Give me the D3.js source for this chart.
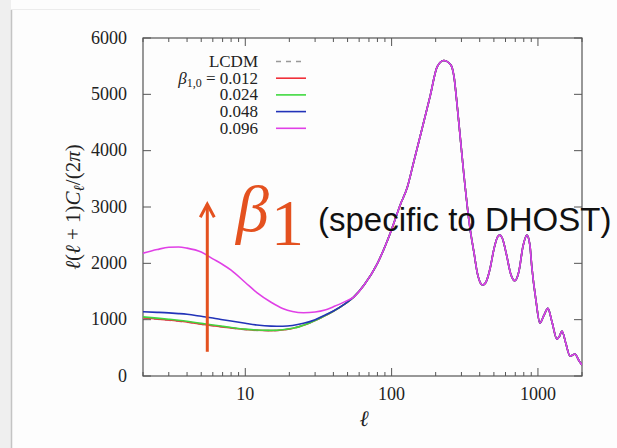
<!DOCTYPE html>
<html>
<head>
<meta charset="utf-8">
<script src="https://cdn.jsdelivr.net/npm/d3@7"></script>
<style>
  body { margin: 0; background: #fdfdfd; }
  svg { display: block; }
  .tick-label { font-family: "Liberation Serif", "Times New Roman", serif; font-size: 18px; fill: #222; }
  .legend { font-family: "Liberation Serif", "Times New Roman", serif; font-size: 17px; fill: #222; }
</style>
</head>
<body>
<svg width="617" height="448"></svg>
<script>
// low-l part, different for each model
let ellLow = [2, 2.5, 3, 3.5, 4, 5, 6, 7, 8, 10, 12, 15, 18, 21, 25, 30, 35, 40, 48]
let dlLCDM = [1030, 1008, 990, 972, 955, 918, 892, 870, 852, 824, 810, 805, 816, 843, 900, 985, 1070, 1150, 1280]
let dl012  = [1035, 1012, 994, 976, 958, 921, 895, 872, 854, 826, 811, 806, 817, 844, 901, 986, 1070, 1150, 1280]
let dl024  = [1050, 1027, 1008, 990, 972, 934, 906, 882, 862, 832, 816, 810, 820, 846, 903, 987, 1071, 1150, 1280]
let dl048  = [1140, 1130, 1120, 1108, 1095, 1060, 1030, 1000, 975, 935, 905, 885, 882, 895, 935, 1000, 1080, 1155, 1282]
let dl096  = [2180, 2245, 2285, 2290, 2270, 2200, 2080, 1980, 1880, 1660, 1480, 1310, 1200, 1145, 1122, 1135, 1170, 1230, 1320]

// high-l part, shared by all models (curves overlap there)
let ellHigh = [55, 65, 80, 98, 115, 128, 141, 160, 183, 205, 227, 254, 267, 281, 311, 342, 366, 385, 405, 420,
  440, 470, 500, 530, 549, 570, 610, 650, 695, 740, 790, 840, 880, 908, 968, 1031, 1100, 1169, 1250,
  1348, 1400, 1459, 1550, 1656, 1720, 1790, 1900, 2000]
let dlHigh = [1400, 1620, 2000, 2540, 3050, 3350, 3780, 4350, 4960, 5490, 5600, 5520, 5310, 4780, 3600, 2650, 2180, 1830, 1650, 1615,
  1660, 1900, 2250, 2470, 2500, 2450, 2150, 1820, 1690, 1850, 2300, 2500, 2330, 1935, 1350, 940, 1080, 1200, 950,
  655, 700, 800, 580, 355, 370, 390, 280, 195]

let legendLabels = ['LCDM', '0.012', '0.024', '0.048', '0.096']
let yTicks = [0, 1000, 2000, 3000, 4000, 5000, 6000]
let xTickLabels = [10, 100, 1000]

const svg = d3.select('svg')

// slide edge
svg.append('rect').attr('x', 0).attr('y', 0).attr('width', 11).attr('height', 448).attr('fill', '#efefef')
svg.append('line').attr('x1', 11.5).attr('x2', 11.5).attr('y1', 10).attr('y2', 448)
  .attr('stroke', '#c4c4c4').attr('stroke-width', 1.5)
svg.append('line').attr('x1', 11).attr('x2', 260).attr('y1', 9.5).attr('y2', 9.5)
  .attr('stroke', '#ececec').attr('stroke-width', 1)

const x = d3.scaleLog().domain([2, 2000]).range([143, 582])
const y = d3.scaleLinear().domain([0, 6000]).range([376, 38])

svg.append('clipPath').attr('id', 'plot')
  .append('rect').attr('x', 143).attr('y', 38).attr('width', 439).attr('height', 338)

// ticks (inward, gnuplot style)
const minor = []
for (let d = 1; d <= 1000; d *= 10) {
  for (let k = 2; k <= 9; k++) {
    if (k * d >= 2 && k * d <= 2000) minor.push(k * d)
  }
}
const axisG = svg.append('g').attr('stroke', '#555').attr('stroke-width', 1)
minor.forEach(v => {
  axisG.append('line').attr('x1', x(v)).attr('x2', x(v)).attr('y1', 376).attr('y2', 372)
  axisG.append('line').attr('x1', x(v)).attr('x2', x(v)).attr('y1', 38).attr('y2', 42)
})
xTickLabels.forEach(v => {
  axisG.append('line').attr('x1', x(v)).attr('x2', x(v)).attr('y1', 376).attr('y2', 368)
  axisG.append('line').attr('x1', x(v)).attr('x2', x(v)).attr('y1', 38).attr('y2', 46)
})
yTicks.forEach(v => {
  axisG.append('line').attr('x1', 143).attr('x2', 151).attr('y1', y(v)).attr('y2', y(v))
  axisG.append('line').attr('x1', 582).attr('x2', 574).attr('y1', y(v)).attr('y2', y(v))
})
svg.append('rect').attr('x', 143).attr('y', 38).attr('width', 439).attr('height', 338)
  .attr('fill', 'none').attr('stroke', '#555').attr('stroke-width', 1.2)

svg.selectAll('text.ylab').data(yTicks).enter().append('text')
  .attr('class', 'tick-label')
  .attr('x', 127).attr('y', d => y(d) + 5.5)
  .attr('text-anchor', 'end')
  .text(d => d)

svg.selectAll('text.xlab').data(xTickLabels).enter().append('text')
  .attr('class', 'tick-label')
  .attr('x', d => x(d)).attr('y', 400)
  .attr('text-anchor', 'middle')
  .text(d => d)

// axis titles
svg.append('text')
  .attr('x', 364).attr('y', 426)
  .attr('text-anchor', 'middle')
  .style('font-family', '"Liberation Serif", "DejaVu Serif", serif')
  .style('font-style', 'italic').style('font-size', '22px').attr('fill', '#222')
  .text('ℓ')

const ylab = svg.append('text')
  .attr('transform', 'translate(80,207) rotate(-90)')
  .attr('text-anchor', 'middle')
  .style('font-family', '"Liberation Serif", "DejaVu Serif", serif')
  .style('font-size', '21px').attr('fill', '#222')
ylab.append('tspan').style('font-style', 'italic').text('ℓ')
ylab.append('tspan').text('(')
ylab.append('tspan').style('font-style', 'italic').text('ℓ')
ylab.append('tspan').text(' + 1)')
ylab.append('tspan').style('font-style', 'italic').text('C')
ylab.append('tspan').style('font-style', 'italic').style('font-size', '15px').attr('dy', 4).text('ℓ')
ylab.append('tspan').attr('dy', -4).text('/(2')
ylab.append('tspan').style('font-style', 'italic').text('π')
ylab.append('tspan').text(')')

// curves
const series = [
  {vals: dlLCDM, color: '#999', dash: '6,5'},
  {vals: dl012, color: '#f0303a'},
  {vals: dl024, color: '#3fd83f'},
  {vals: dl048, color: '#2233b8'},
  {vals: dl096, color: '#e040e6'},
]
const line = d3.line()
  .x(d => x(d[0]))
  .y(d => y(d[1]))
  .curve(d3.curveMonotoneX)

const curvesG = svg.append('g').attr('clip-path', 'url(#plot)')
series.forEach(s => {
  const pts = ellLow.map((l, i) => [l, s.vals[i]])
    .concat(ellHigh.map((l, i) => [l, dlHigh[i]]))
  curvesG.append('path')
    .attr('d', line(pts))
    .attr('fill', 'none')
    .attr('stroke', s.color)
    .attr('stroke-width', 1.6)
    .attr('stroke-dasharray', s.dash || null)
})

// legend
legendLabels.forEach((lab, i) => {
  const ty = 67 + i * 16.7
  const t = svg.append('text').attr('class', 'legend')
    .attr('x', 258).attr('y', ty).attr('text-anchor', 'end')
  if (i === 1) {
    t.append('tspan').style('font-style', 'italic').text('β')
    t.append('tspan').style('font-size', '12px').attr('dy', 3).text('1,0')
    t.append('tspan').attr('dy', -3).text(' = ' + lab)
  } else {
    t.text(lab)
  }
  svg.append('line')
    .attr('x1', 276).attr('x2', 306)
    .attr('y1', ty - 5.5).attr('y2', ty - 5.5)
    .attr('stroke', series[i].color)
    .attr('stroke-width', 1.6)
    .attr('stroke-dasharray', series[i].dash ? '5,5' : null)
})

// annotation: arrow + beta_1
const orange = '#e4511f'
const ax = x(5.5)
svg.append('line')
  .attr('x1', ax).attr('x2', ax).attr('y1', y(430)).attr('y2', y(3050))
  .attr('stroke', orange).attr('stroke-width', 3)
svg.append('path')
  .attr('d', `M${ax - 7},${y(3050) + 13} L${ax},${y(3050)} L${ax + 7},${y(3050) + 13}`)
  .attr('fill', 'none').attr('stroke', orange).attr('stroke-width', 3)

const beta = svg.append('text')
  .attr('x', 236).attr('y', 231)
  .style('font-family', '"Liberation Serif", "Times New Roman", serif')
  .attr('fill', orange)
beta.append('tspan').style('font-style', 'italic').style('font-size', '66px').text('β')
beta.append('tspan').style('font-size', '66px').attr('dx', 2).attr('dy', 14).text('1')

svg.append('text')
  .attr('x', 318).attr('y', 231)
  .style('font-family', '"Liberation Sans", Arial, sans-serif')
  .style('font-size', '33px').attr('fill', '#111')
  .text('(specific to DHOST)')
</script>
</body>
</html>
